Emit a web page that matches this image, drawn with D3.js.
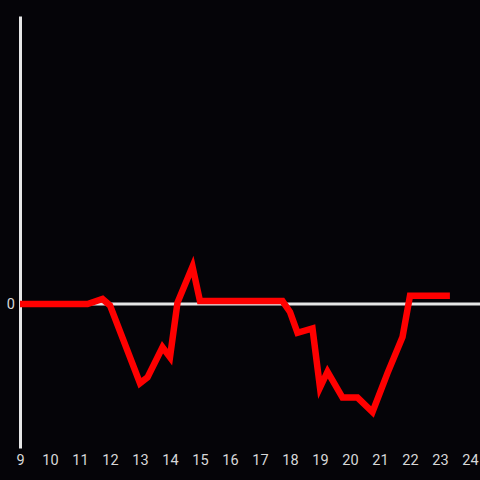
<!DOCTYPE html>
<html><head><meta charset="utf-8">
<script src="https://cdn.jsdelivr.net/npm/d3@7"></script>
<style>html,body{margin:0;padding:0;background:#050408;}svg{display:block;}</style>
</head><body>
<script>
const hours = [9, 11.25, 11.75, 12, 13, 13.25, 13.75, 14, 14.25, 14.75, 15, 17.75, 18, 18.25, 18.75, 19, 19.25, 19.75, 20.25, 20.75, 21.25, 21.75, 22, 23.33];
const values = [0, 0, 0.035, -0.01, -0.55, -0.51, -0.30, -0.37, 0.01, 0.26, 0.02, 0.02, -0.055, -0.2, -0.17, -0.58, -0.47, -0.65, -0.65, -0.75, -0.48, -0.23, 0.058, 0.058];
const xTicks = [9,10,11,12,13,14,15,16,17,18,19,20,21,22,23,24];
const yTicks = [0];

const W = 480, H = 480;
const svg = d3.select("body").append("svg").attr("width", W).attr("height", H)
  .style("background", "#050408");
const x = d3.scaleLinear().domain([9, 24]).range([20, 470]);
const y = d3.scaleLinear().domain([-1, 2]).range([448, 16]);

// zero line
svg.append("line").attr("x1", 20).attr("x2", W).attr("y1", y(0)).attr("y2", y(0))
  .attr("stroke", "#e6e6e6").attr("stroke-width", 3);

// y axis
const ya = svg.append("g").attr("transform", "translate(20,0)")
  .call(d3.axisLeft(y).tickValues(yTicks).tickSize(0).tickPadding(5).tickFormat(d3.format("d")));
ya.select(".domain").attr("stroke", "#e6e6e6").attr("stroke-width", 3);
ya.selectAll("text").attr("fill", "#d8d8d8").style("font-family", "Roboto, sans-serif").style("font-size", "14.5px");

// x axis
const xa = svg.append("g").attr("transform", "translate(0,448)")
  .call(d3.axisBottom(x).tickValues(xTicks).tickSize(0).tickPadding(7).tickFormat(d3.format("d")));
xa.select(".domain").remove();
xa.selectAll("text").attr("fill", "#d8d8d8").style("font-family", "Roboto, sans-serif").style("font-size", "14.5px");

const data = hours.map((h, i) => [h, values[i]]);
svg.append("path").datum(data)
  .attr("fill", "none").attr("stroke", "#ff0000").attr("stroke-width", 6.5)
  .attr("d", d3.line().x(d => x(d[0])).y(d => y(d[1])));
</script>
</body></html>
